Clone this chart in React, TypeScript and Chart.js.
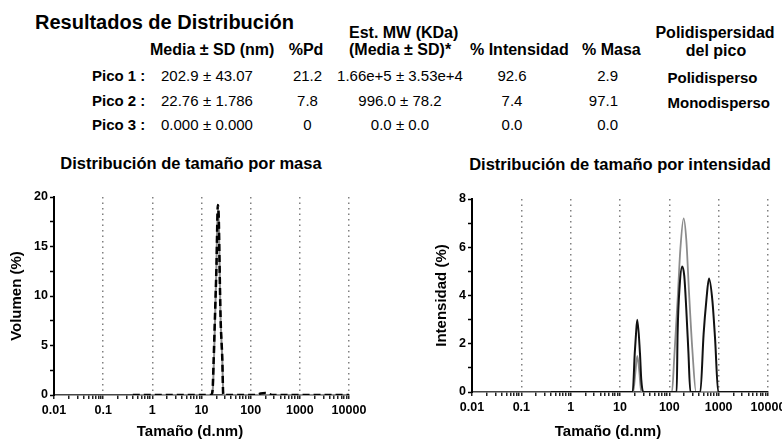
import React, { useEffect, useRef } from 'react';
import { Chart, registerables } from 'chart.js';

Chart.register(...registerables);

const FONT = '"Liberation Sans", Arial, Helvetica, sans-serif';

// ---- axis ticks ----
const X_DECADES = [0.01, 0.1, 1, 10, 100, 1000, 10000];
const X_TICK_LABELS = ['0.01', '0.1', '1', '10', '100', '1000', '10000'];

// ---- mass distribution (Volumen %) ----
const MASS_SIZE_A = [0.4, 15.7, 16.8, 17.5, 18.7, 20.2, 21.5, 22.5, 23.3, 24.4, 26.5, 27.7, 130, 160, 200, 235, 280, 10000];
const MASS_PCT_A = [0, 0, 0.5, 2.9, 7.6, 13.2, 19.2, 17.7, 13.2, 7.9, 3.6, 0, 0, 0.15, 0.2, 0.12, 0, 0];
const MASS_SIZE_B = [0.4, 16.0, 17.0, 18.5, 20.0, 21.4, 22.6, 24.2, 26.5, 27.8, 10000];
const MASS_PCT_B = [0, 0, 0.6, 6.0, 12.5, 18.8, 17.0, 8.5, 3.5, 0, 0];

// ---- intensity distribution (Intensidad %) ----
const INT_SIZE_A = [0.4, 18.1, 19.9, 21.1, 22.4, 25.4, 27.0, 29.7, 141, 147, 162, 183, 201, 221, 243, 267, 425, 495, 563, 637, 745, 846, 980, 10000];
const INT_PCT_A = [0, 0, 1.6, 2.4, 3.0, 1.6, 0.5, 0, 0, 2.4, 4.4, 5.2, 4.8, 3.4, 1.7, 0, 0, 2.4, 3.8, 4.7, 3.8, 2.2, 0, 0];
const INT_SIZE_B = [0.4, 18.5, 20.5, 22.4, 24.5, 27.0, 113, 126, 147, 167, 195, 221, 251, 293, 348, 10000];
const INT_PCT_B = [0, 0, 0.8, 1.5, 0.9, 0, 0, 1.46, 3.8, 5.9, 7.2, 6.3, 4.1, 1.74, 0, 0];

// ---- results table ----
const PEAK_NAMES = ['Pico 1 :', 'Pico 2 :', 'Pico 3 :'];
const MEAN_NM = ['202.9', '22.76', '0.000'];
const SD_NM = ['43.07', '1.786', '0.000'];
const PD = ['21.2', '7.8', '0'];
const MW = ['1.66e+5 ± 3.53e+4', '996.0 ± 78.2', '0.0 ± 0.0'];
const INT_PCT = ['92.6', '7.4', '0.0'];
const MASS_PCT = ['2.9', '97.1', '0.0'];
const DISPERSITY = ['Polidisperso', 'Monodisperso', ''];

const ROW_Y = [75.5, 100.3, 124.5];

function pts(xs: number[], ys: number[]) {
  return xs.map((x, i) => ({ x, y: ys[i] }));
}

function decadeIndex(v: number) {
  return X_DECADES.findIndex((d) => Math.abs(d - v) / d < 1e-6);
}

function xScale() {
  return {
    type: 'logarithmic',
    min: 0.01,
    max: 10000,
    afterBuildTicks: (scale: any) => {
      const ticks: any[] = [];
      X_DECADES.forEach((d, i) => {
        ticks.push({ value: d, major: true });
        if (i < X_DECADES.length - 1) {
          for (let k = 2; k <= 9; k++) ticks.push({ value: d * k, major: false });
        }
      });
      scale.ticks = ticks;
    },
    afterFit: (scale: any) => {
      scale.height = 30;
      scale.paddingLeft = 0;
      scale.paddingRight = 0;
    },
    ticks: {
      autoSkip: false,
      maxRotation: 0,
      minRotation: 0,
      padding: 4,
      color: '#000',
      font: { family: FONT, size: 12.5, weight: 'bold' },
      callback: (v: number) => {
        const i = decadeIndex(v);
        return i >= 0 ? X_TICK_LABELS[i] : '';
      },
    },
    grid: {
      color: (ctx: any) => (ctx.tick && decadeIndex(ctx.tick.value) >= 0 ? '#808080' : 'rgba(0,0,0,0)'),
      lineWidth: 1.5,
      tickColor: '#222',
      tickLength: 4,
      tickWidth: 1.5,
    },
    border: { color: '#444', width: 1.5, dash: [1.5, 4] },
  };
}

function yScale(max: number, step: number, labelEvery: number, width: number, title: string, titlePad: number) {
  return {
    type: 'linear',
    min: 0,
    max,
    afterFit: (scale: any) => {
      scale.width = width;
    },
    ticks: {
      stepSize: step,
      autoSkip: false,
      padding: 2,
      color: '#000',
      font: { family: FONT, size: 12.5, weight: 'bold' },
      callback: (v: number) => (Math.abs(v % labelEvery) < 1e-9 ? String(v) : ''),
    },
    grid: { drawOnChartArea: false, tickColor: '#000', tickLength: 4, tickWidth: 1.5 },
    border: { color: '#000', width: 2 },
    title: {
      display: true,
      text: title,
      color: '#000',
      font: { family: FONT, size: 15, weight: 'bold' },
      padding: { top: titlePad, bottom: 0 },
    },
  };
}

function baseOptions(padding: any, y: any) {
  return {
    responsive: false,
    animation: false,
    events: [],
    layout: { padding },
    plugins: { legend: { display: false }, title: { display: false }, tooltip: { enabled: false } },
    elements: { point: { radius: 0 }, line: { cubicInterpolationMode: 'monotone' } },
    scales: { x: xScale(), y },
  };
}

function massConfig(): any {
  return {
    type: 'line',
    data: {
      datasets: [
        { data: pts(MASS_SIZE_A, MASS_PCT_A), borderColor: '#000', borderWidth: 2.5, borderDash: [7, 4] },
        { data: pts(MASS_SIZE_B, MASS_PCT_B), borderColor: '#8c8c8c', borderWidth: 2 },
      ],
    },
    options: baseOptions({ top: 47, right: 41, bottom: 16, left: 0 }, yScale(20, 2.5, 5, 54, 'Volumen (%)', 8)),
  };
}

function intensityConfig(): any {
  return {
    type: 'line',
    data: {
      datasets: [
        { data: pts(INT_SIZE_A, INT_PCT_A), borderColor: '#111', borderWidth: 2 },
        { data: pts(INT_SIZE_B, INT_PCT_B), borderColor: '#8c8c8c', borderWidth: 1.8 },
      ],
    },
    options: baseOptions({ top: 49, right: 14, bottom: 19, left: 0 }, yScale(8, 1, 2, 82, 'Intensidad (%)', 43)),
  };
}

function Txt(props: { x: number; y: number; size: number; bold?: boolean; align?: string; children: any }) {
  const { x, y, size, bold, align = 'left', children } = props;
  const tx = align === 'center' ? '-50%' : align === 'right' ? '-100%' : '0';
  return (
    <div
      style={{
        position: 'absolute',
        left: x,
        top: y - size / 2,
        fontSize: size,
        lineHeight: `${size}px`,
        fontWeight: bold ? 700 : 400,
        fontFamily: FONT,
        whiteSpace: 'nowrap',
        transform: `translateX(${tx})`,
        color: '#000',
      }}
    >
      {children}
    </div>
  );
}

function DistChart(props: { left: number; width: number; build: () => any }) {
  const ref = useRef<HTMLCanvasElement | null>(null);
  useEffect(() => {
    const chart = new Chart(ref.current as HTMLCanvasElement, props.build());
    return () => chart.destroy();
  }, []);
  return (
    <canvas
      ref={ref}
      width={props.width}
      height={291}
      style={{ position: 'absolute', left: props.left, top: 150, width: props.width, height: 291, display: 'block' }}
    />
  );
}

export default function App() {
  return (
    <div
      style={{
        position: 'absolute',
        left: 0,
        top: 0,
        width: 782,
        height: 441,
        overflow: 'hidden',
        background: '#fff',
      }}
    >
      <Txt x={35} y={22} size={20} bold>Resultados de Distribución</Txt>
      <Txt x={349} y={33} size={16} bold>Est. MW (KDa)</Txt>
      <Txt x={715} y={32.5} size={16} bold align="center">Polidispersidad</Txt>
      <Txt x={150} y={49.5} size={16} bold>Media ± SD (nm)</Txt>
      <Txt x={306} y={49.5} size={16} bold align="center">%Pd</Txt>
      <Txt x={349} y={49.5} size={16} bold>(Media ± SD)*</Txt>
      <Txt x={470} y={50} size={16} bold>% Intensidad</Txt>
      <Txt x={582} y={50} size={16} bold>% Masa</Txt>
      <Txt x={716} y={51} size={16} bold align="center">del pico</Txt>

      {PEAK_NAMES.map((n, i) => (
        <React.Fragment key={n}>
          <Txt x={92} y={ROW_Y[i]} size={15} bold>{n}</Txt>
          <Txt x={161} y={ROW_Y[i]} size={15}>{MEAN_NM[i]}</Txt>
          <Txt x={203} y={ROW_Y[i]} size={15}>{'± ' + SD_NM[i]}</Txt>
          <Txt x={307.5} y={ROW_Y[i]} size={15} align="center">{PD[i]}</Txt>
          <Txt x={400} y={ROW_Y[i]} size={15} align="center">{MW[i]}</Txt>
          <Txt x={512} y={ROW_Y[i]} size={15} align="center">{INT_PCT[i]}</Txt>
          <Txt x={618} y={ROW_Y[i]} size={15} align="right">{MASS_PCT[i]}</Txt>
          {DISPERSITY[i] ? (
            <Txt x={667.5} y={ROW_Y[i] + 2} size={15} bold>{DISPERSITY[i]}</Txt>
          ) : null}
        </React.Fragment>
      ))}

      <Txt x={191} y={163.5} size={16.5} bold align="center">Distribución de tamaño por masa</Txt>
      <Txt x={620} y={164.5} size={16.5} bold align="center">Distribución de tamaño por intensidad</Txt>

      <DistChart left={0} width={390} build={massConfig} />
      <DistChart left={390} width={392} build={intensityConfig} />

      <Txt x={190} y={430.5} size={15} bold align="center">Tamaño (d.nm)</Txt>
      <Txt x={608} y={430.5} size={15} bold align="center">Tamaño (d.nm)</Txt>
    </div>
  );
}
